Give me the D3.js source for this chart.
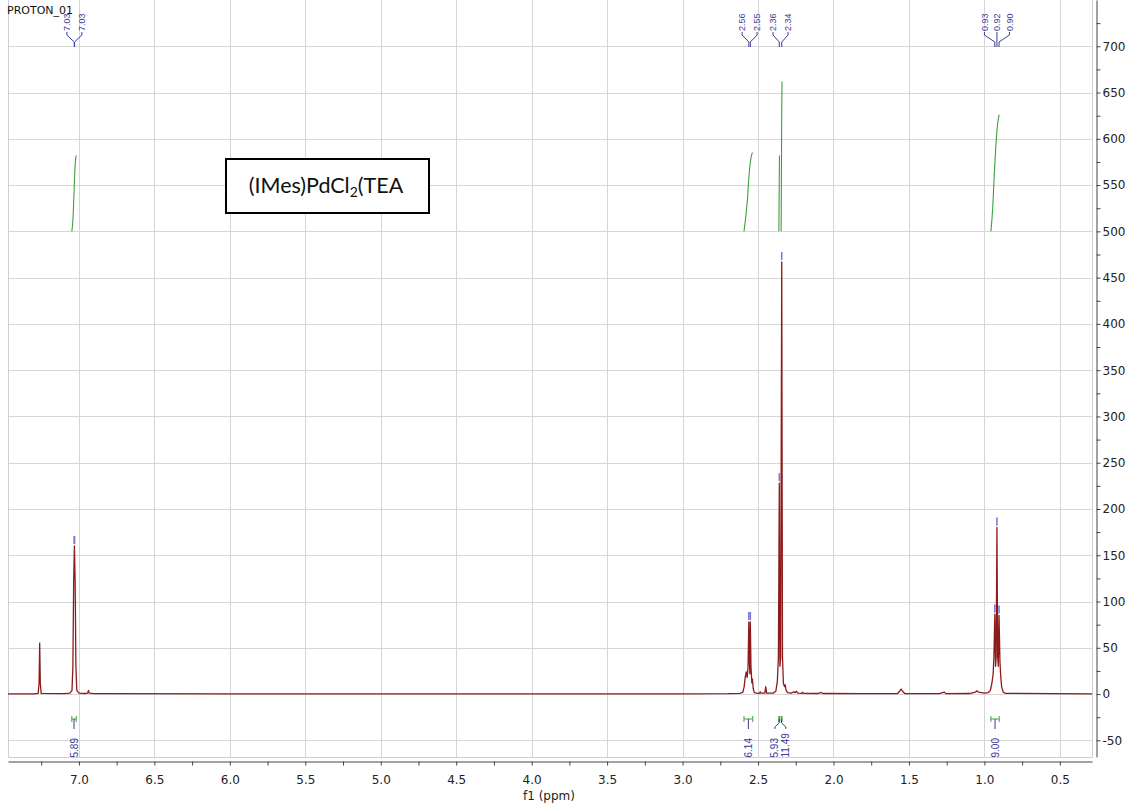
<!DOCTYPE html>
<html>
<head>
<meta charset="utf-8">
<script src="https://cdn.jsdelivr.net/npm/d3@7"></script>
<style>
  html, body { margin: 0; padding: 0; background: #fff; }
  svg { display: block; }
</style>
</head>
<body>
<svg id="chart" width="1134" height="807"></svg>
<script>
// ---------------- DATA ----------------
const chartTitle = "PROTON_01";
const xAxisTitle = "f1 (ppm)";
const xDomain = [7.47, 0.287];   // ppm, left -> right
const yDomain = [-68, 750];

const xTickValues = [7.25, 7.0, 6.75, 6.5, 6.25, 6.0, 5.75, 5.5, 5.25, 5.0, 4.75, 4.5, 4.25, 4.0,
  3.75, 3.5, 3.25, 3.0, 2.75, 2.5, 2.25, 2.0, 1.75, 1.5, 1.25, 1.0, 0.75, 0.5];
const xGridValues = [7.0, 6.5, 6.0, 5.5, 5.0, 4.5, 4.0, 3.5, 3.0, 2.5, 2.0, 1.5, 1.0, 0.5];
const yTickValues = [-50, -25, 0, 25, 50, 75, 100, 125, 150, 175, 200, 225, 250, 275, 300, 325, 350,
  375, 400, 425, 450, 475, 500, 525, 550, 575, 600, 625, 650, 675, 700, 725];
const yGridValues = [-50, 0, 50, 100, 150, 200, 250, 300, 350, 400, 450, 500, 550, 600, 650, 700];

// spectrum trace [ppm, intensity]
const spectrum = [
  [7.470, 0.3], [7.300, 0.3], [7.270, 0.8], [7.264, 12], [7.260, 55], [7.256, 12], [7.250, 0.8],
  [7.100, 0.4], [7.060, 1.0], [7.046, 4], [7.040, 30], [7.035, 120], [7.030, 160], [7.025, 120],
  [7.020, 30], [7.014, 4], [7.000, 1.0], [6.960, 0.6], [6.942, 1.0], [6.937, 4], [6.932, 1.0],
  [6.900, 0.5], [6.800, 0.4], [6.000, 0.3], [5.000, 0.3], [4.000, 0.3], [3.000, 0.3],
  [2.700, 0.4], [2.620, 0.8], [2.600, 2], [2.592, 8], [2.585, 18], [2.578, 24], [2.572, 18],
  [2.566, 30], [2.561, 78], [2.557, 35], [2.554, 22], [2.551, 78], [2.547, 30], [2.541, 12],
  [2.537, 16], [2.532, 6], [2.525, 1.5], [2.500, 0.8], [2.490, 1], [2.486, 2.5], [2.481, 1],
  [2.455, 1], [2.449, 8], [2.443, 1], [2.400, 1], [2.382, 3], [2.372, 14], [2.365, 40],
  [2.359, 228], [2.355, 30], [2.350, 40], [2.343, 467], [2.338, 40], [2.332, 12], [2.325, 8],
  [2.320, 10], [2.314, 4], [2.305, 1.5], [2.280, 1.0], [2.262, 2.5], [2.255, 1.5], [2.245, 3],
  [2.235, 1], [2.210, 0.8], [2.205, 2], [2.198, 0.8], [2.100, 0.6], [2.085, 1.8], [2.070, 0.6],
  [1.800, 0.4], [1.575, 0.6], [1.562, 3], [1.552, 5.5], [1.542, 3], [1.528, 0.6], [1.300, 0.5],
  [1.265, 2], [1.255, 0.5], [1.100, 0.6], [1.060, 2], [1.050, 3.5], [1.040, 2], [1.000, 1],
  [0.975, 1.5], [0.960, 4], [0.950, 12], [0.942, 22], [0.937, 40], [0.931, 86], [0.926, 30],
  [0.922, 40], [0.917, 180], [0.912, 40], [0.908, 30], [0.903, 85], [0.897, 35], [0.892, 20],
  [0.886, 8], [0.875, 2], [0.860, 0.8], [0.287, 0.3]
];

// peak picking labels
const peakLabelGroups = [["7.03", "7.03"], ["2.56", "2.55"], ["2.36", "2.34"], ["0.93", "0.92", "0.90"]];
const peakPpmGroups = [[7.031, 7.029], [2.561, 2.551], [2.359, 2.343], [0.931, 0.917, 0.903]];

// integrals: curve points [ppm, level] and values
const integralCurves = [
  [[7.047, 500], [7.040, 512], [7.034, 535], [7.028, 562], [7.022, 578], [7.018, 582]],
  [[2.593, 500], [2.580, 518], [2.570, 535], [2.560, 560], [2.550, 576], [2.540, 584], [2.535, 585]],
  [[2.362, 500], [2.360, 540], [2.358, 582]],
  [[2.347, 500], [2.345, 560], [2.343, 630], [2.341, 662]],
  [[0.957, 500], [0.945, 525], [0.935, 560], [0.925, 590], [0.915, 612], [0.905, 624], [0.902, 626]]
];
const integralValues = ["5.89", "6.14", "5.93", "11.49", "9.00"];

const boxTextParts = ["(IMes)PdCl", "2", "(TEA"];

// ---------------- DRAW ----------------
const svg = d3.select("#chart");
const plotL = 8, plotR = 1092, plotT = 0, plotB = 757;

const x = d3.scaleLinear().domain(xDomain).range([plotL, plotR]);
const y = d3.scaleLinear().domain(yDomain).range([plotB, plotT]);

svg.append("rect").attr("width", 1134).attr("height", 807).attr("fill", "#fff");

const defs = svg.append("defs");
defs.append("clipPath").attr("id", "plotclip")
  .append("rect").attr("x", plotL).attr("y", plotT).attr("width", plotR - plotL).attr("height", plotB - plotT);

const gridColor = "#d6d6d6";
// grid
svg.append("g").selectAll("line").data(xGridValues).join("line")
  .attr("x1", d => Math.round(x(d)) + 0.5).attr("x2", d => Math.round(x(d)) + 0.5)
  .attr("y1", plotT).attr("y2", plotB)
  .attr("stroke", gridColor).attr("stroke-width", 1);
svg.append("g").selectAll("line").data(yGridValues).join("line")
  .attr("x1", plotL).attr("x2", plotR)
  .attr("y1", d => Math.round(y(d)) + 0.5).attr("y2", d => Math.round(y(d)) + 0.5)
  .attr("stroke", gridColor).attr("stroke-width", 1);

// frame
svg.append("path")
  .attr("d", `M${plotL + 0.5},${plotT}V${plotB + 0.5}H${plotR + 0.5}V${plotT}`)
  .attr("fill", "none").attr("stroke", "#cfcfcf").attr("stroke-width", 1);

const plot = svg.append("g").attr("clip-path", "url(#plotclip)");

// integral curves
const integralColor = "#3f9f3f";
plot.append("g").selectAll("path").data(integralCurves).join("path")
  .attr("d", d3.line().x(d => x(d[0])).y(d => y(d[1])).curve(d3.curveMonotoneX))
  .attr("fill", "none").attr("stroke", integralColor).attr("stroke-width", 1.1);

// spectrum
plot.append("path")
  .datum(spectrum)
  .attr("d", d3.line().x(d => x(d[0])).y(d => y(d[1])))
  .attr("fill", "none").attr("stroke", "#8e1b1b").attr("stroke-width", 1.3)
  .attr("stroke-linejoin", "round");

// peak markers
function peakHeight(p) {
  let best = 0;
  spectrum.forEach(d => { if (Math.abs(d[0] - p) <= 0.0025 && d[1] > best) best = d[1]; });
  return best;
}
const labelBlue = "#3a3a9a";
const markerBlue = "#7b7bd4";
const allPeaks = peakPpmGroups.flat();
plot.append("g").selectAll("line").data(allPeaks).join("line")
  .attr("x1", d => x(d)).attr("x2", d => x(d))
  .attr("y1", d => y(peakHeight(d)) - 10).attr("y2", d => y(peakHeight(d)) - 2)
  .attr("stroke", markerBlue).attr("stroke-width", 1.6);

// peak labels at top
const topG = svg.append("g");
peakLabelGroups.forEach((labels, gi) => {
  const ppms = peakPpmGroups[gi];
  const cx = d3.mean(ppms, p => x(p));
  const spacing = labels.length > 2 ? 12.5 : 15;
  labels.forEach((lab, i) => {
    const lx = cx + (i - (labels.length - 1) / 2) * spacing;
    const px = x(ppms[i]);
    topG.append("text")
      .attr("transform", `translate(${lx + 3.2},31) rotate(-90)`)
      .attr("font-family", "Liberation Sans, Arial, sans-serif")
      .attr("font-size", 9).attr("fill", labelBlue)
      .text(lab);
    topG.append("path")
      .attr("d", `M${lx},32V35L${px},42V47`)
      .attr("fill", "none").attr("stroke", labelBlue).attr("stroke-width", 1);
  });
});

// integral labels at bottom
const botG = svg.append("g").attr("clip-path", "url(#plotclip)");
const centers = integralCurves.map(c => (x(c[0][0]) + x(c[c.length - 1][0])) / 2);
const labelX = centers.slice();
for (let i = 1; i < labelX.length; i++) {
  if (labelX[i] - labelX[i - 1] < 11) {
    const mid = (labelX[i] + labelX[i - 1]) / 2;
    labelX[i - 1] = mid - 5.5; labelX[i] = mid + 5.5;
  }
}
integralCurves.forEach((c, i) => {
  const x0 = x(c[0][0]), x1 = x(c[c.length - 1][0]);
  const cx = centers[i], lx = labelX[i];
  botG.append("path")
    .attr("d", `M${x0},716V722M${x0},719H${x1}M${x1},716V722`)
    .attr("fill", "none").attr("stroke", integralColor).attr("stroke-width", 1);
  botG.append("path")
    .attr("d", `M${cx},719V723L${lx},727V729`)
    .attr("fill", "none").attr("stroke", labelBlue).attr("stroke-width", 1);
  botG.append("text")
    .attr("transform", `translate(${lx + 3.5},757.5) rotate(-90)`)
    .attr("font-family", "Liberation Sans, Arial, sans-serif")
    .attr("font-size", 10).attr("fill", labelBlue)
    .text(integralValues[i]);
});

// axes
const axisColor = "#444";
const xAxis = d3.axisBottom(x).tickValues(xTickValues).tickSize(4).tickSizeOuter(0)
  .tickFormat(d => (Math.abs(d * 2 - Math.round(d * 2)) < 1e-9) ? d3.format(".1f")(d) : "");
const gx = svg.append("g").attr("transform", "translate(0,761.5)").call(xAxis);
gx.select(".domain").attr("stroke", axisColor);
gx.selectAll(".tick line").attr("stroke", axisColor);
gx.selectAll(".tick text").attr("font-family", "DejaVu Sans, Verdana, sans-serif")
  .attr("font-size", 12).attr("fill", "#222").attr("dy", "1.25em");

const yAxis = d3.axisRight(y).tickValues(yTickValues).tickSize(4).tickSizeOuter(0)
  .tickFormat(d => d % 50 === 0 ? String(d) : "");
const gy = svg.append("g").attr("transform", "translate(1096.5,0)").call(yAxis);
gy.select(".domain").attr("stroke", axisColor);
gy.selectAll(".tick line").attr("stroke", axisColor);
gy.selectAll(".tick text").attr("font-family", "DejaVu Sans, Verdana, sans-serif")
  .attr("font-size", 12).attr("fill", "#222").attr("x", 6);

svg.append("text").attr("x", 549).attr("y", 800).attr("text-anchor", "middle")
  .attr("font-family", "DejaVu Sans, Verdana, sans-serif").attr("font-size", 12).attr("fill", "#222")
  .text(xAxisTitle);

svg.append("text").attr("x", 7).attr("y", 14)
  .attr("font-family", "DejaVu Sans, Verdana, sans-serif").attr("font-size", 11).attr("fill", "#111")
  .text(chartTitle);

// annotation box
svg.append("rect").attr("x", 226).attr("y", 159).attr("width", 203).attr("height", 54)
  .attr("fill", "#fff").attr("stroke", "#000").attr("stroke-width", 2);
const bt = svg.append("text").attr("x", 326).attr("y", 193).attr("text-anchor", "middle")
  .attr("font-family", "Lato, Open Sans, sans-serif").attr("font-size", 21.5).attr("fill", "#111");
bt.append("tspan").text(boxTextParts[0]);
bt.append("tspan").attr("font-size", 14).attr("dy", 4).text(boxTextParts[1]);
bt.append("tspan").attr("dy", -4).text(boxTextParts[2]);
</script>
</body>
</html>
